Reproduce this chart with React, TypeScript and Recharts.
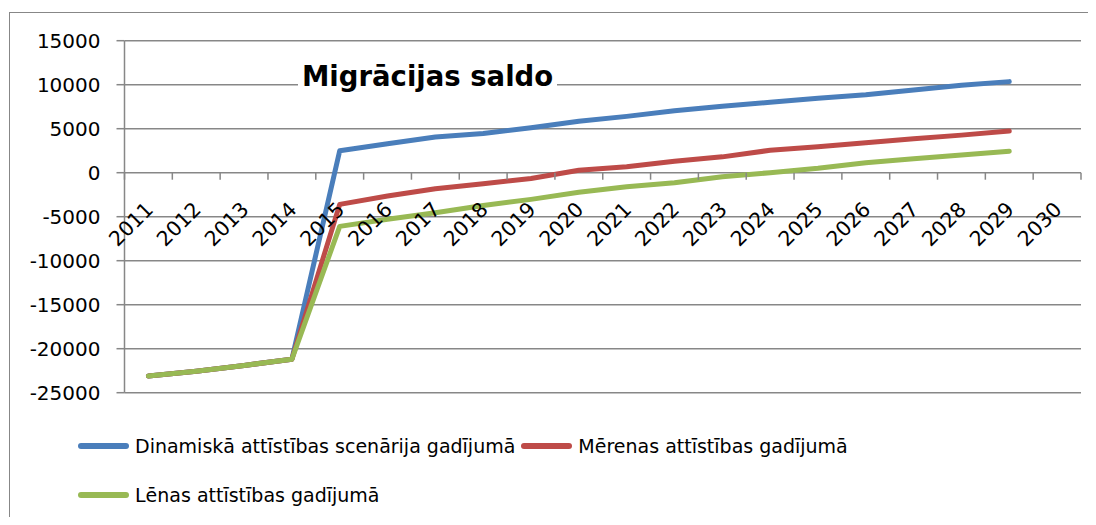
import React from "react";
import { LineChart, Line, XAxis, YAxis, CartesianGrid } from "recharts";

const years = ["2011", "2012", "2013", "2014", "2015", "2016", "2017", "2018", "2019", "2020",
    "2021", "2022", "2023", "2024", "2025", "2026", "2027", "2028", "2029", "2030"];

const dinamiska = [-23100, -22550, -21900, -21200, 2500, 3300, 4050, 4450, 5100, 5850,
    6400, 7050, 7550, 8000, 8450, 8850, 9400, 9950, 10350, null];
const merena = [-23100, -22550, -21900, -21200, -3600, -2650, -1820, -1250, -650, 280,
    680, 1300, 1800, 2550, 2950, 3400, 3850, 4270, 4730, null];
const lena = [-23100, -22550, -21900, -21200, -6100, -5300, -4550, -3720, -3030, -2230,
    -1590, -1140, -450, 0, 500, 1140, 1590, 2000, 2450, null];

const yTicks = [-25000, -20000, -15000, -10000, -5000, 0, 5000, 10000, 15000];

const series = [
    { key: "dinamiska", name: "Dinamiskā attīstības scenārija gadījumā", color: "#4a7ebb", values: dinamiska },
    { key: "merena", name: "Mērenas attīstības gadījumā", color: "#be4b48", values: merena },
    { key: "lena", name: "Lēnas attīstības gadījumā", color: "#98b954", values: lena },
];

const data = years.map((year, i) => {
    const row: { [k: string]: any } = { year };
    series.forEach(s => { row[s.key] = s.values[i]; });
    return row;
});

const W = 1088;
const H = 517;
const PLOT_LEFT = 116.5;
const PLOT_TOP = 32.7;
const PLOT_W = 956.5;
const PLOT_H = 352;
const GRID = "#878787";
const FONT = "'DejaVu Sans', sans-serif";

const Y_MIN = -25000;
const Y_MAX = 15000;
const BAND = PLOT_W / years.length;

// x labels sit on the zero line, not at the bottom of the plot
const XTick = (props: any) => {
    const { x, y, payload, index } = props;
    const zeroY = y - PLOT_H * (0 - Y_MIN) / (Y_MAX - Y_MIN);
    return (
        <g>
            <line x1={x - BAND / 2} x2={x - BAND / 2} y1={zeroY} y2={zeroY + 7} stroke={GRID} strokeWidth={1.5} />
            {index === years.length - 1 &&
                <line x1={x + BAND / 2} x2={x + BAND / 2} y1={zeroY} y2={zeroY + 7} stroke={GRID} strokeWidth={1.5} />}
            <text
                x={x + 6}
                y={zeroY + 38}
                textAnchor="end"
                transform={`rotate(-45, ${x + 6}, ${zeroY + 38})`}
                fontFamily={FONT}
                fontSize={20.5}
                fill="#000"
            >
                {payload.value}
            </text>
        </g>
    );
};

export default function App() {
    return (
        <div style={{ position: "relative", width: W, height: H, marginBottom: -8, background: "#fff" }}>
            <div style={{
                position: "absolute", left: 1, top: 4, right: 0, bottom: 0,
                borderTop: `1.5px solid ${GRID}`, borderLeft: `1.5px solid ${GRID}`
            }} />
            <LineChart
                width={W}
                height={H}
                data={data}
                margin={{ top: PLOT_TOP, right: W - PLOT_LEFT - PLOT_W, left: 0, bottom: H - PLOT_TOP - PLOT_H - 1 }}
                style={{ position: "absolute", left: 0, top: 0 }}
            >
                <CartesianGrid vertical={false} stroke={GRID} strokeWidth={1.5} />
                <XAxis
                    dataKey="year"
                    scale="band"
                    height={1}
                    axisLine={false}
                    tickLine={false}
                    tickSize={0}
                    tickMargin={0}
                    interval={0}
                    tick={<XTick />}
                />
                <YAxis
                    width={PLOT_LEFT}
                    domain={[Y_MIN, Y_MAX]}
                    ticks={yTicks}
                    interval={0}
                    tickSize={8}
                    tickMargin={16}
                    axisLine={{ stroke: GRID, strokeWidth: 1.5 }}
                    tickLine={{ stroke: GRID, strokeWidth: 1.5 }}
                    tick={{ fontFamily: FONT, fontSize: 20, fill: "#000" }}
                />
                {series.map(s => (
                    <Line
                        key={s.key}
                        dataKey={s.key}
                        name={s.name}
                        stroke={s.color}
                        strokeWidth={5}
                        strokeLinecap="round"
                        strokeLinejoin="round"
                        dot={false}
                        activeDot={false}
                        isAnimationActive={false}
                    />
                ))}
            </LineChart>
            <div style={{
                position: "absolute", left: 290, top: 52, padding: "0 4px", background: "#fff",
                fontFamily: FONT, fontWeight: "bold", fontSize: 27.5, lineHeight: 1.2, color: "#000"
            }}>
                Migrācijas saldo
            </div>
            <div style={{
                position: "absolute", left: 70, top: 424, width: 830,
                display: "flex", flexWrap: "wrap", rowGap: 21, columnGap: 6,
                fontFamily: FONT, fontSize: 19, lineHeight: "28px", color: "#000"
            }}>
                {series.map(s => (
                    <div key={s.key} style={{ display: "flex", alignItems: "center" }}>
                        <span style={{ display: "inline-block", width: 51, height: 6, borderRadius: 3, background: s.color, marginRight: 6 }} />
                        <span>{s.name}</span>
                    </div>
                ))}
            </div>
        </div>
    );
}
